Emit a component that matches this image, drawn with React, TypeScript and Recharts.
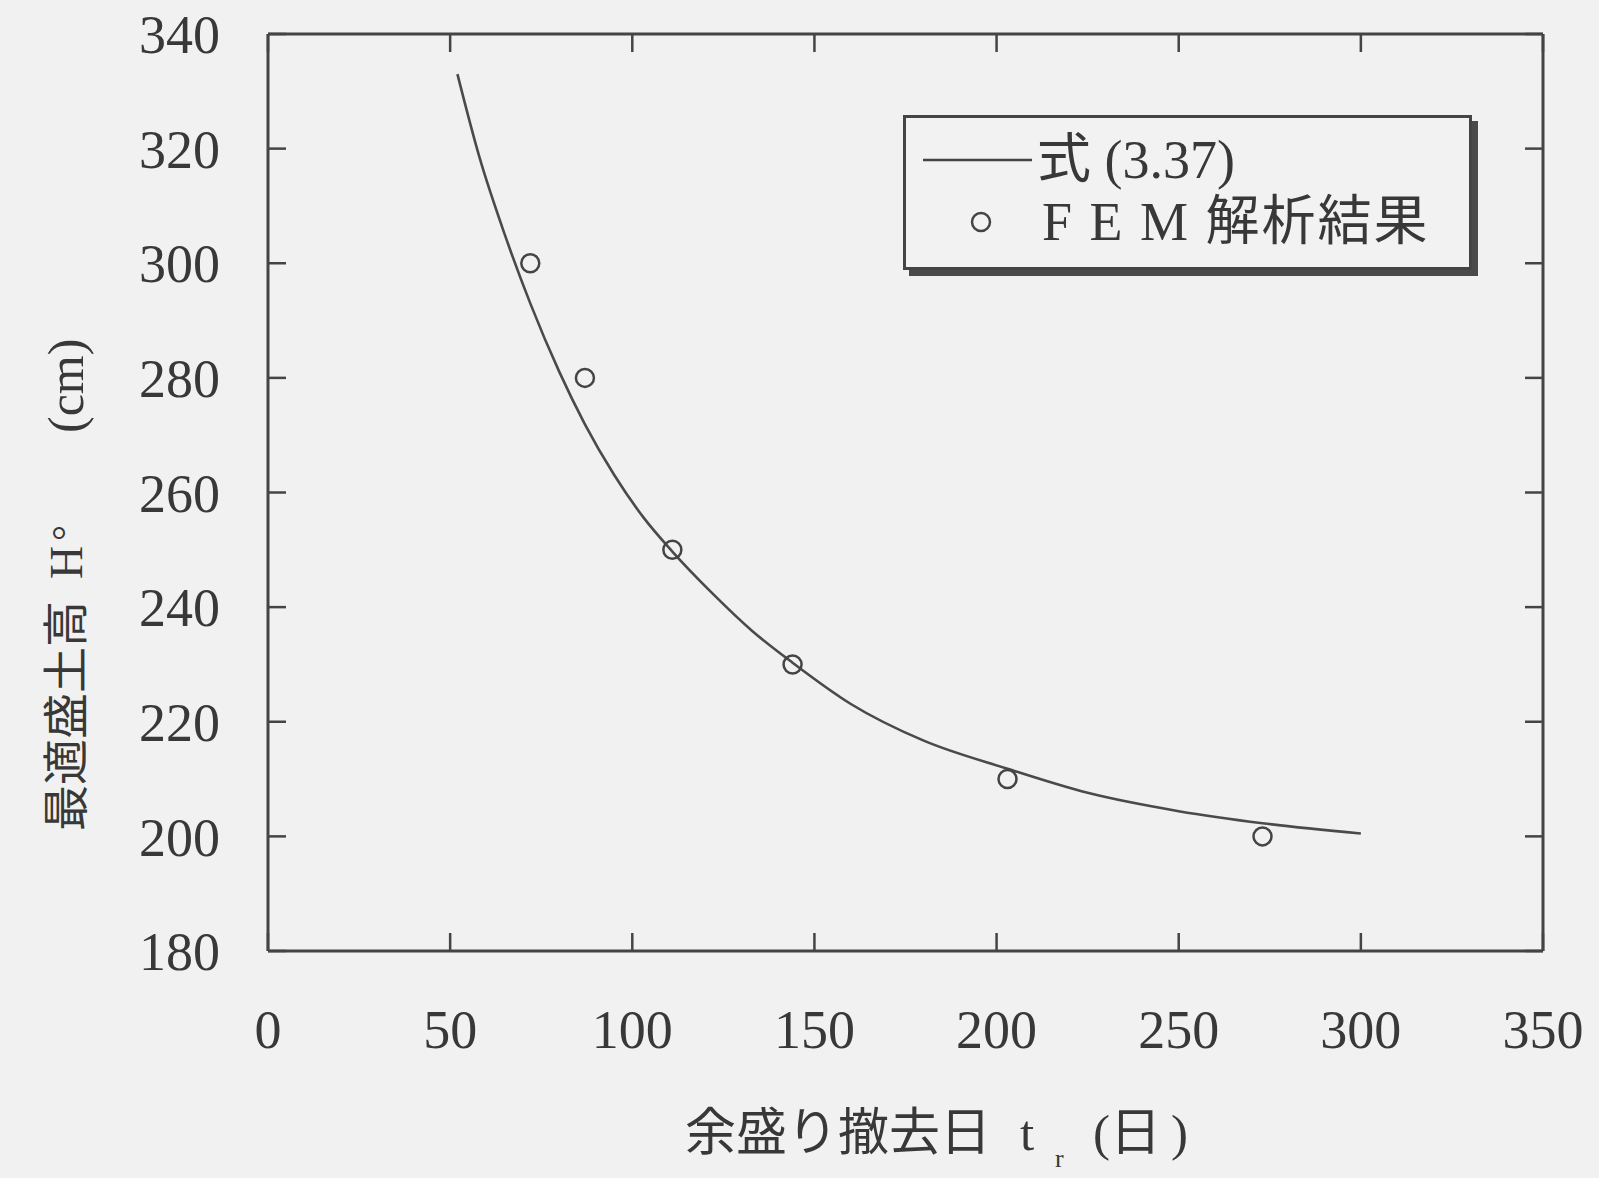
import React from "react";
import { ComposedChart, Line, Scatter, XAxis, YAxis, Legend, Label } from "recharts";

// axes
const xTicks = [0, 50, 100, 150, 200, 250, 300, 350];
const yTicks = [180, 200, 220, 240, 260, 280, 300, 320, 340];

// 式 (3.37) curve
const curveT = [52, 58, 65, 72, 80, 87, 95, 103, 111, 122, 133, 144, 160, 180, 203, 225, 250, 273, 300];
const curveH = [333, 318.6, 305, 293, 281, 271.9, 263.1, 255.7, 249.7, 242.4, 235.8, 230.3, 223.1, 216.7, 211.8, 207.6, 204.4, 202.3, 200.5];

// FEM 解析結果
const femT = [72, 87, 111, 144, 203, 273];
const femH = [300, 280, 250, 230, 210, 200];

const curveData = curveT.map((t, i) => ({ t, H: curveH[i] }));
const femData = femT.map((t, i) => ({ t, H: femH[i] }));

const INK = "#444";
const TEXT = "#383838";
const SERIF = "'Liberation Serif', 'Noto Sans CJK JP', serif";

const NoLabel = () => <g />;

const XTitle = (props: any) => {
  const vb = props.viewBox || { x: 268, y: 951 };
  const x0 = vb.x + 417;
  const y0 = vb.y + 199;
  return (
    <text x={x0} y={y0} fill={TEXT} fontFamily={SERIF} fontSize={51}>
      <tspan>余盛り撤去日</tspan>
      <tspan x={x0 + 335}>t</tspan>
      <tspan x={x0 + 370} y={y0 + 17} fontSize={26}>r</tspan>
      <tspan x={x0 + 408} y={y0}>(</tspan>
      <tspan x={x0 + 425}>日</tspan>
      <tspan x={x0 + 486}>)</tspan>
    </text>
  );
};

const YTitle = () => {
  const x0 = 66;
  const y0 = 831;
  return (
    <text
      transform={`rotate(-90 ${x0} ${y0})`}
      x={x0}
      y={y0}
      fill={TEXT}
      fontFamily={SERIF}
      fontSize={46}
      dominantBaseline="central"
    >
      <tspan>最適盛土高</tspan>
      <tspan x={x0 + 252}>H</tspan>
      <tspan x={x0 + 290} fontSize={40}>°</tspan>
      <tspan x={x0 + 398} fontSize={50}>(cm)</tspan>
    </text>
  );
};

const LegendBox = () => (
  <div
    style={{
      position: "relative",
      boxSizing: "border-box",
      width: 569,
      height: 155,
      border: `3px solid ${INK}`,
      boxShadow: "6px 6px 0 #4a4a4a",
      background: "#f3f2f2",
      fontFamily: SERIF,
      color: TEXT,
      fontSize: 54,
      lineHeight: "60px",
    }}
  >
    <svg width={560} height={150} style={{ position: "absolute", left: 0, top: 0 }}>
      <line x1={17} y1={42} x2={126} y2={42} stroke={INK} strokeWidth={2.5} />
      <circle cx={75} cy={104} r={9} fill="none" stroke={INK} strokeWidth={2.5} />
    </svg>
    <span style={{ position: "absolute", left: 131, top: 12, whiteSpace: "nowrap" }}>式 (3.37)</span>
    <span style={{ position: "absolute", left: 136, top: 74, whiteSpace: "nowrap", letterSpacing: 2 }}>
      F E M 解析結果
    </span>
  </div>
);

export default function App() {
  const tickStyle = { fontFamily: SERIF, fontSize: 54, fill: TEXT };
  return (
    <div style={{ position: "absolute", left: 0, top: 0, width: 1599, height: 1178, background: "#f2f1f1" }}>
      <ComposedChart width={1599} height={1178} margin={{ top: 33, right: 55, bottom: 27, left: 68 }}>
        <XAxis
          xAxisId="b"
          type="number"
          dataKey="t"
          domain={[0, 350]}
          ticks={xTicks}
          interval={0}
          height={200}
          tickSize={-18}
          tickMargin={77}
          axisLine={{ stroke: INK, strokeWidth: 3 }}
          tickLine={{ stroke: INK, strokeWidth: 2.5 }}
          tick={tickStyle}
          allowDataOverflow
        >
          <Label content={<XTitle />} />
        </XAxis>
        <XAxis
          xAxisId="top"
          orientation="top"
          type="number"
          dataKey="t"
          domain={[0, 350]}
          ticks={xTicks}
          interval={0}
          height={1}
          tickSize={-18}
          tick={NoLabel}
          axisLine={{ stroke: INK, strokeWidth: 3 }}
          tickLine={{ stroke: INK, strokeWidth: 2.5 }}
          allowDataOverflow
        />
        <YAxis
          yAxisId="l"
          type="number"
          dataKey="H"
          domain={[180, 340]}
          ticks={yTicks}
          interval={0}
          width={200}
          tickSize={-18}
          tickMargin={66}
          axisLine={{ stroke: INK, strokeWidth: 3 }}
          tickLine={{ stroke: INK, strokeWidth: 2.5 }}
          tick={tickStyle}
          allowDataOverflow
        >
          <Label content={<YTitle />} />
        </YAxis>
        <YAxis
          yAxisId="r"
          orientation="right"
          type="number"
          dataKey="H"
          domain={[180, 340]}
          ticks={yTicks}
          interval={0}
          width={1}
          tickSize={-18}
          tick={NoLabel}
          axisLine={{ stroke: INK, strokeWidth: 3 }}
          tickLine={{ stroke: INK, strokeWidth: 2.5 }}
          allowDataOverflow
        />
        <Legend
          layout="horizontal"
          verticalAlign="middle"
          align="center"
          content={<LegendBox />}
          wrapperStyle={{ left: 903, top: 115, width: 575, height: 162 }}
        />
        <Line
          xAxisId="b"
          yAxisId="l"
          data={curveData}
          dataKey="H"
          type="monotone"
          stroke="#4a4a4a"
          strokeWidth={2.6}
          dot={false}
          activeDot={false}
          isAnimationActive={false}
        />
        <Scatter
          xAxisId="b"
          yAxisId="l"
          data={femData}
          dataKey="H"
          isAnimationActive={false}
          shape={(p: any) => (
            <circle cx={p.cx} cy={p.cy} r={9} fill="none" stroke={INK} strokeWidth={2.5} />
          )}
        />
      </ComposedChart>
    </div>
  );
}
